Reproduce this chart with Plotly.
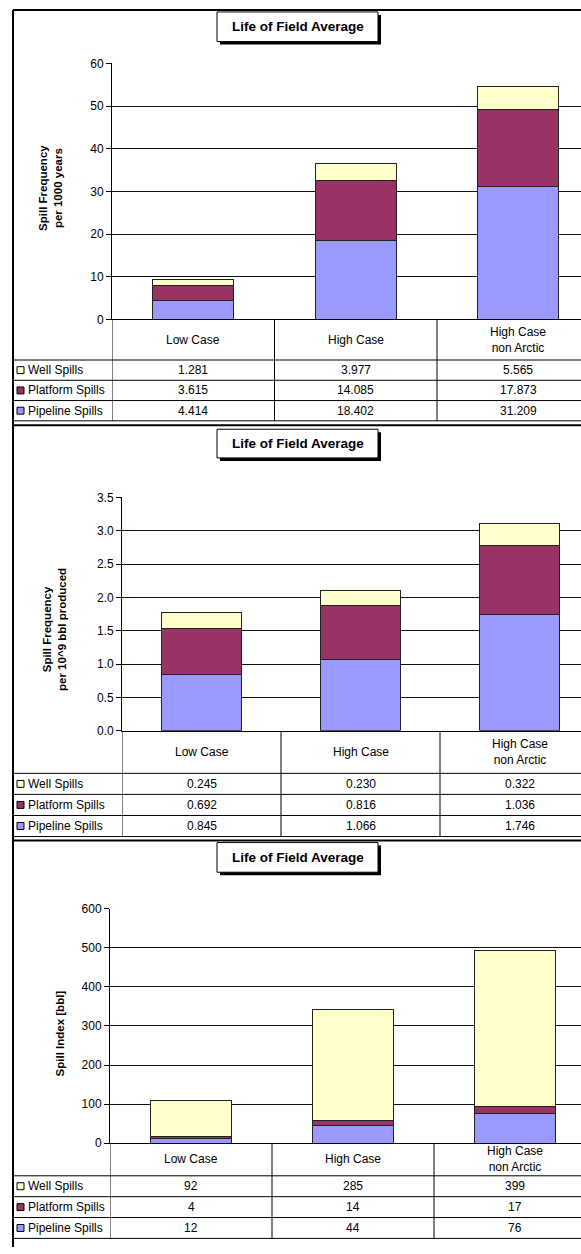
import plotly.graph_objects as go

# ---------------- data ----------------
categories = ["Low Case", "High Case", "High Case<br>non Arctic"]
series_names = ["Well Spills", "Platform Spills", "Pipeline Spills"]  # table order (top to bottom)

freq_well = [1.281, 3.977, 5.565]
freq_platform = [3.615, 14.085, 17.873]
freq_pipeline = [4.414, 18.402, 31.209]

prod_well = [0.245, 0.230, 0.322]
prod_platform = [0.692, 0.816, 1.036]
prod_pipeline = [0.845, 1.066, 1.746]

index_well = [92, 285, 399]
index_platform = [4, 14, 17]
index_pipeline = [12, 44, 76]

colors = {"Well Spills": "#FFFFCC", "Platform Spills": "#993366", "Pipeline Spills": "#9999FF"}

W, H = 581, 1254
FONT = "Liberation Sans, Arial, sans-serif"


def px(x):
    return x / W


def py(y):
    return 1 - y / H


panels = [
    dict(values={"Well Spills": freq_well, "Platform Spills": freq_platform, "Pipeline Spills": freq_pipeline},
         fmt="{:.3f}", ytitle="Spill Frequency<br>per 1000 years", yrange=[0, 60], dtick=10, tickformat="d",
         axis_x=112, col_w=162.5, top=57, bottom=316, header_bottom=357, row_h=20.5,
         border_top=3, tbox=(217, 5, 378, 35), yt=(51, 183)),
    dict(values={"Well Spills": prod_well, "Platform Spills": prod_platform, "Pipeline Spills": prod_pipeline},
         fmt="{:.3f}", ytitle="Spill Frequency<br>per 10^9 bbl produced", yrange=[0, 3.5], dtick=0.5, tickformat=".1f",
         axis_x=122, col_w=159, top=496, bottom=732, header_bottom=775, row_h=21.3,
         border_top=423, tbox=(217, 427, 378, 456), yt=(55, 630)),
    dict(values={"Well Spills": index_well, "Platform Spills": index_platform, "Pipeline Spills": index_pipeline},
         fmt="{:d}", ytitle="Spill Index [bbl]", yrange=[0, 600], dtick=100, tickformat="d",
         axis_x=110, col_w=162, top=912, bottom=1149, header_bottom=1182, row_h=21.1,
         border_top=843, tbox=(217, 845, 378, 875), yt=(60, 1038)),
]

fig = go.Figure()
shapes = []
annotations = []
layout_axes = {}

for k, p in enumerate(panels, start=1):
    xa = "x" if k == 1 else f"x{k}"
    ya = "y" if k == 1 else f"y{k}"
    xkey = "xaxis" if k == 1 else f"xaxis{k}"
    ykey = "yaxis" if k == 1 else f"yaxis{k}"

    xmax = -0.5 + (W - p["axis_x"]) / p["col_w"]
    layout_axes[xkey] = dict(domain=[px(p["axis_x"]), 1], range=[-0.5, xmax], anchor=ya,
                             showticklabels=False, ticks="", showgrid=False, zeroline=False,
                             showline=True, linecolor="black", linewidth=1, fixedrange=True)
    layout_axes[ykey] = dict(domain=[py(p["bottom"]), py(p["top"])], range=p["yrange"], anchor=xa,
                             dtick=p["dtick"], tickformat=p["tickformat"], ticks="outside", ticklen=5,
                             tickcolor="black", showline=True, linecolor="black", linewidth=1,
                             showgrid=True, gridcolor="#111111", gridwidth=1, zeroline=False,
                             tickfont=dict(family=FONT, size=12, color="black"), fixedrange=True)

    # stacked bars: pipeline bottom, platform, well top
    for name in ["Pipeline Spills", "Platform Spills", "Well Spills"]:
        fig.add_trace(go.Bar(x=list(range(len(categories))), y=p["values"][name], name=name,
                             width=0.5, marker=dict(color=colors[name], line=dict(color="#222222", width=1)),
                             xaxis=xa, yaxis=ya, showlegend=False, hoverinfo="skip"))

    # y-axis title
    annotations.append(dict(text=f"<b>{p['ytitle']}</b>", x=px(p["yt"][0]), y=py(p["yt"][1]),
                            xref="paper", yref="paper", textangle=-90, showarrow=False,
                            xanchor="center", yanchor="middle",
                            font=dict(family=FONT, size=11.5, color="black")))

    # title box with shadow
    x0, y0, x1, y1 = p["tbox"]
    shapes.append(dict(type="rect", xref="paper", yref="paper", x0=px(x0 + 3), x1=px(x1 + 3),
                       y0=py(y1 + 3), y1=py(y0 + 3), fillcolor="black", line=dict(width=0)))
    shapes.append(dict(type="rect", xref="paper", yref="paper", x0=px(x0), x1=px(x1),
                       y0=py(y1), y1=py(y0), fillcolor="white", line=dict(color="black", width=1)))
    annotations.append(dict(text="<b>Life of Field Average</b>", x=px((x0 + x1) / 2), y=py((y0 + y1) / 2),
                            xref="paper", yref="paper", showarrow=False, xanchor="center", yanchor="middle",
                            font=dict(family=FONT, size=13.5, color="black")))

    # panel top border
    shapes.append(dict(type="line", xref="paper", yref="paper", x0=px(13), x1=1,
                       y0=py(p["border_top"]), y1=py(p["border_top"]), line=dict(color="black", width=2)))

    # data table
    hb = p["header_bottom"]
    rh = p["row_h"]
    table_bottom = hb + rh * len(series_names)
    for r in range(len(series_names) + 1):
        yy = hb + r * rh
        shapes.append(dict(type="line", xref="paper", yref="paper", x0=px(13), x1=1,
                           y0=py(yy), y1=py(yy), line=dict(color="black", width=1)))
    for b in [-0.5, 0.5, 1.5]:
        shapes.append(dict(type="line", xref=xa, yref="paper", x0=b, x1=b,
                           y0=py(table_bottom), y1=py(p["bottom"]), line=dict(color="black", width=1)))
    for i, c in enumerate(categories):
        annotations.append(dict(text=c, x=i, xref=xa, y=py((p["bottom"] + hb) / 2), yref="paper",
                                showarrow=False, xanchor="center", yanchor="middle",
                                font=dict(family=FONT, size=12, color="black")))
    for r, name in enumerate(series_names):
        yc = hb + (r + 0.5) * rh
        shapes.append(dict(type="rect", xref="paper", yref="paper", x0=px(17), x1=px(24),
                           y0=py(yc + 3.5), y1=py(yc - 3.5), fillcolor=colors[name],
                           line=dict(color="black", width=1)))
        annotations.append(dict(text=name, x=px(26), y=py(yc), xref="paper", yref="paper",
                                showarrow=False, xanchor="left", yanchor="middle",
                                font=dict(family=FONT, size=12, color="black")))
        for i, v in enumerate(p["values"][name]):
            annotations.append(dict(text=p["fmt"].format(v), x=i, xref=xa, y=py(yc), yref="paper",
                                    showarrow=False, xanchor="center", yanchor="middle",
                                    font=dict(family=FONT, size=12, color="black")))

# left outer border
shapes.append(dict(type="line", xref="paper", yref="paper", x0=px(13), x1=px(13),
                   y0=0, y1=py(3), line=dict(color="black", width=2)))

fig.update_layout(
    width=W, height=H,
    margin=dict(l=0, r=0, t=0, b=0),
    paper_bgcolor="white", plot_bgcolor="white",
    barmode="stack", bargap=0,
    showlegend=False, hovermode=False,
    shapes=shapes, annotations=annotations,
    font=dict(family=FONT, size=12, color="black"),
    **layout_axes,
)

fig.write_html("out.html", config={"displayModeBar": False, "staticPlot": True},
               post_script="document.body.style.margin='0';document.body.style.overflow='hidden';")
